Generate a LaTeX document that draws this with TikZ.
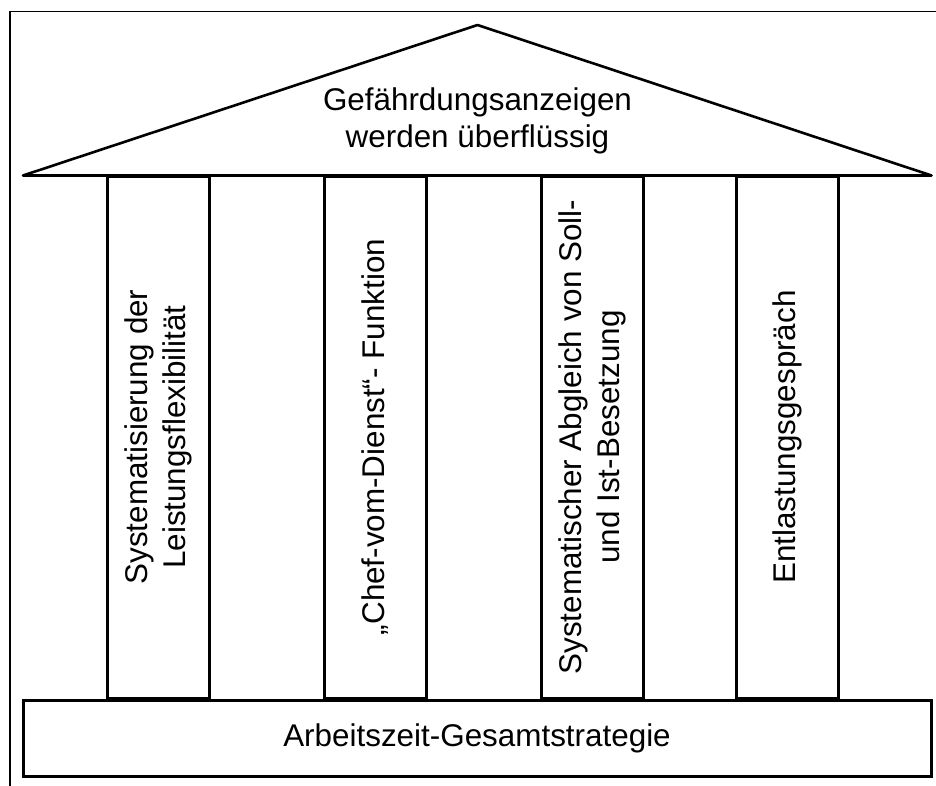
\documentclass[tikz,border=0pt]{standalone}
\usepackage{fontspec}
\setmainfont{Liberation Sans}
\begin{document}
\begin{tikzpicture}[x=1pt,y=-1pt,
  txt/.style={inner sep=0pt, font=\fontsize{31.4}{37.7}\selectfont, align=center},
  pillar/.style={draw, line width=3pt, rotate=90, minimum width=522pt, minimum height=102pt, inner sep=0pt, font=\fontsize{31.4}{37.7}\selectfont, align=center},
  frameline/.style={line width=1.6pt},
  roofline/.style={line width=2.6pt, line join=round}]
\useasboundingbox (0,0) rectangle (936,785);
\clip (0,0) rectangle (936,785);
% outer frame (cut by the picture's edge)
\coordinate (fbl) at (9.8,800);
\coordinate (ftl) at (9.8,11.5);
\coordinate (ftr) at (950,11.5);
\draw[frameline] (fbl) -- (ftl) -- (ftr);
% roof
\coordinate (rl) at (23,175.5);
\coordinate (ra) at (477.5,25);
\coordinate (rr) at (931.5,175.5);
\draw[roofline] (rl) -- (ra) -- (rr) -- cycle;
\node[txt] (roof) at (477.5,121) {Gefährdungsanzeigen\\werden überflüssig};
% pillars
\node[pillar] (p1) at (158.5,437) {Systematisierung der\\Leistungsflexibilität};
\node[pillar] (p2) at (375.5,437) {„Chef-vom-Dienst“- Funktion};
\node[pillar] (p3) at (592.5,437) {Systematischer Abgleich von Soll-\\und Ist-Besetzung};
\node[pillar] (p4) at (787.5,437) {Entlastungsgespräch};
% base
\node[draw, line width=3pt, minimum width=908pt, minimum height=76pt, inner sep=0pt, txt] (base) at (477,738) {Arbeitszeit-Gesamtstrategie};
\end{tikzpicture}
\end{document}
